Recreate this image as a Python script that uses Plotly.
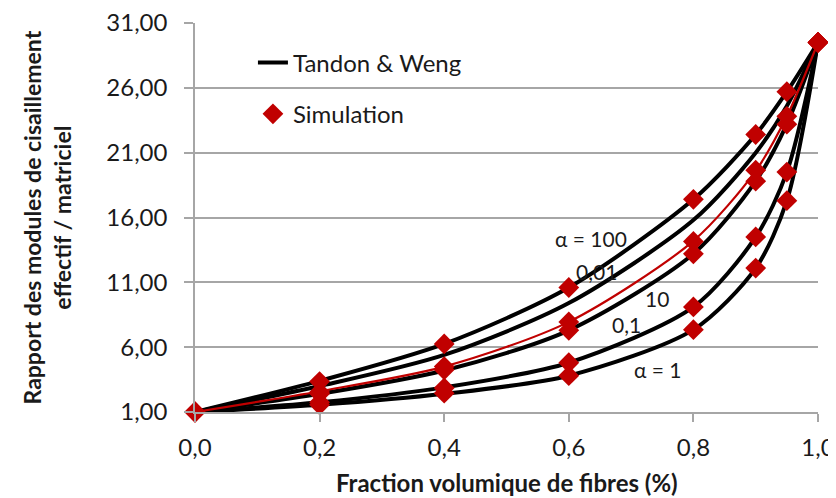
import plotly.graph_objects as go

# ---- data ----
x_frac = [0.0, 0.2, 0.4, 0.6, 0.8, 0.9, 0.95, 1.0]

# Tandon & Weng curves (alpha values)
tw_100 = [1.0, 3.40, 6.25, 10.60, 17.40, 22.40, 25.70, 29.50]
tw_001 = [1.0, 3.00, 5.40, 9.40, 15.80, 21.00, 24.60, 29.50]
tw_10 = [1.0, 2.40, 4.20, 7.30, 13.20, 18.80, 23.20, 29.50]
tw_01 = [1.0, 1.75, 2.90, 4.80, 9.10, 14.50, 19.50, 29.50]
tw_1 = [1.0, 1.55, 2.40, 3.80, 7.35, 12.10, 17.30, 29.50]

# red curve
red_curve = [1.0, 2.60, 4.50, 7.95, 14.20, 19.60, 23.80, 29.50]

# Simulation points
sim_100 = [1.0, 3.35, 6.25, 10.60, 17.40, 22.40, 25.70, 29.50]
sim_a = [1.0, 2.55, 4.50, 7.95, 14.15, 19.65, 23.80, 29.50]
sim_10 = [1.0, 2.40, 4.25, 7.30, 13.20, 18.80, 23.20, 29.50]
sim_01 = [1.0, 1.75, 2.85, 4.80, 9.10, 14.50, 19.50, 29.50]
sim_1 = [1.0, 1.55, 2.45, 3.80, 7.35, 12.10, 17.30, 29.50]

y_ticks = [1, 6, 11, 16, 21, 26, 31]
x_ticks = [0.0, 0.2, 0.4, 0.6, 0.8, 1.0]

curve_labels = ["α = 100", "0,01", "10", "0,1", "α = 1"]

FONT = "Lato"
RED = "#C00000"
GRID = "#A6A6A6"
TXT = "#1a1a1a"

fig = go.Figure()

tw_curves = [tw_100, tw_001, tw_10, tw_01, tw_1]
for i, c in enumerate(tw_curves):
    fig.add_trace(go.Scatter(
        x=x_frac, y=c, mode="lines", name="Tandon & Weng",
        line=dict(color="black", width=4, shape="spline", smoothing=0.8),
        showlegend=(i == 0), legendgroup="tw", legendrank=1, cliponaxis=False))

fig.add_trace(go.Scatter(
    x=x_frac, y=red_curve, mode="lines", showlegend=False,
    line=dict(color=RED, width=2.2, shape="spline", smoothing=0.8), cliponaxis=False))

for i, s in enumerate([sim_100, sim_a, sim_10, sim_01, sim_1]):
    fig.add_trace(go.Scatter(
        x=x_frac, y=s, mode="markers", name="Simulation",
        marker=dict(symbol="diamond", color=RED, size=16, line=dict(width=0)),
        showlegend=(i == 0), legendgroup="sim", legendrank=2, cliponaxis=False))

# curve labels (paper positions)
label_pos = [(0.636, 0.447), (0.645, 0.360), (0.742, 0.293), (0.693, 0.224), (0.743, 0.108)]
for t, (px, py) in zip(curve_labels, label_pos):
    fig.add_annotation(x=px, y=py, xref="paper", yref="paper", text=t,
                       xanchor="center", yanchor="middle",
                       showarrow=False, font=dict(family=FONT, size=21, color=TXT))

# axis titles
fig.add_annotation(x=0.5, y=-0.1825, xref="paper", yref="paper",
                   text="<b>Fraction volumique de fibres (%)</b>", showarrow=False,
                   xanchor="center", yanchor="middle",
                   font=dict(family=FONT, size=24, color=TXT))
fig.add_annotation(x=-0.2376, y=0.5, xref="paper", yref="paper",
                   text="<b>Rapport des modules de cisaillement<br>effectif / matriciel</b>",
                   showarrow=False, textangle=-90, xanchor="center", yanchor="middle",
                   font=dict(family=FONT, size=23, color=TXT))

# page body has an 8px margin: figure is sized so the plot area lands where the reference has it
fig.update_layout(
    width=828, height=490,
    margin=dict(l=187, r=18, t=15, b=86),
    paper_bgcolor="white", plot_bgcolor="white",
    separators=", ",
    font=dict(family=FONT, size=24, color=TXT),
    legend=dict(x=0.093, y=0.955, xanchor="left", yanchor="top",
                traceorder="grouped", tracegroupgap=17,
                bgcolor="rgba(0,0,0,0)", font=dict(family=FONT, size=24)),
    xaxis=dict(range=[0, 1], tickvals=x_ticks, tickformat=".1f",
               showgrid=False, showline=True, linecolor=GRID, linewidth=1.5,
               ticks="outside", ticklen=8, tickcolor=GRID, tickwidth=1.5,
               zeroline=False, automargin=False, ticklabelstandoff=5,
               ticklabeloverflow="allow", tickfont=dict(size=24)),
    yaxis=dict(range=[1, 31], tickvals=y_ticks, tickformat=".2f",
               showgrid=True, gridcolor=GRID, gridwidth=1.5,
               showline=True, linecolor=GRID, linewidth=1.5,
               ticks="outside", ticklen=9, tickcolor=GRID, tickwidth=1.5,
               zeroline=False, automargin=False, ticklabelstandoff=12,
               ticklabeloverflow="allow", tickfont=dict(size=24)),
)

fig.write_html("out.html")
